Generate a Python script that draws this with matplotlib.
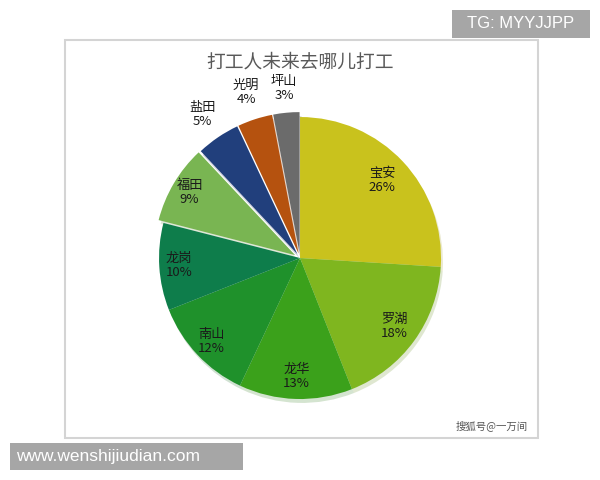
import matplotlib
matplotlib.use('Agg')
import matplotlib.pyplot as plt
from matplotlib.patches import Rectangle
import numpy as np

plt.rcParams['font.family'] = ['Noto Sans CJK SC', 'DejaVu Sans']

# data
districts = ['宝安', '罗湖', '龙华', '南山', '龙岗', '福田', '盐田', '光明', '坪山']
shares = [26, 18, 13, 12, 10, 9, 5, 4, 3]
colors = ['#c9c21d', '#7fb61f', '#3ba11b', '#1f912b', '#0e7d4b',
          '#79b552', '#213f7c', '#b5520f', '#6b6b6b']
explode = [0, 0, 0, 0, 0, 0.04, 0.035, 0.035, 0.035]
label_r = [0.80, 0.83, 0.84, 0.86, 0.86, 0.87, 1.20, 1.20, 1.17]

fig = plt.figure(figsize=(6, 4.8), dpi=100)

# chart frame
fig.patches.append(Rectangle((65 / 600, 1 - 438 / 480), 473 / 600, 398 / 480,
                             transform=fig.transFigure, facecolor='white',
                             edgecolor='#d4d4d4', linewidth=1.5, zorder=-5))

ax = fig.add_axes([0.2167, 0.1083, 0.5667, 0.7083])
ax.patch.set_visible(False)
wedges, _ = ax.pie(shares, colors=colors, startangle=90, counterclock=False,
                   explode=explode, radius=1,
                   wedgeprops=dict(linewidth=0),
                   shadow=dict(ox=0.01, oy=-0.02, shade=0.25, alpha=0.2))
ax.set_xlim(-1.2057, 1.2057)
ax.set_ylim(-1.2057, 1.2057)
ax.set_aspect('equal')
ax.axis('off')

for w, name, val, r, e in zip(wedges, districts, shares, label_r, explode):
    ang = np.deg2rad((w.theta1 + w.theta2) / 2)
    ax.text((r + e) * np.cos(ang), (r + e) * np.sin(ang), f'{name}\n{val}%',
            ha='center', va='center', fontsize=9.5, color='#1a1a1a',
            linespacing=1.1)

fig.text(0.5, 1 - 62 / 480, '打工人未来去哪儿打工', ha='center', va='center',
         fontsize=13.5, color='#595959')
fig.text(492 / 600, 1 - 426 / 480, '搜狐号@一万间', ha='center', va='center',
         fontsize=7.5, color='#555555')

# watermarks
fig.patches.append(Rectangle((10 / 600, 1 - 470 / 480), 233 / 600, 27 / 480,
                             transform=fig.transFigure, facecolor='#a6a6a6',
                             edgecolor='none'))
fig.text(16 / 600, 1 - 456 / 480, 'www.wenshijiudian.com', ha='left', va='center',
         fontsize=12.5, color='white', family='Liberation Sans')
fig.patches.append(Rectangle((452 / 600, 1 - 38 / 480), 138 / 600, 28 / 480,
                             transform=fig.transFigure, facecolor='#a6a6a6',
                             edgecolor='none'))
fig.text(521 / 600, 1 - 24 / 480, 'TG: MYYJJPP', ha='center', va='center',
         fontsize=12, color='white', family='Liberation Sans')

fig.savefig('out.png', dpi=100)
